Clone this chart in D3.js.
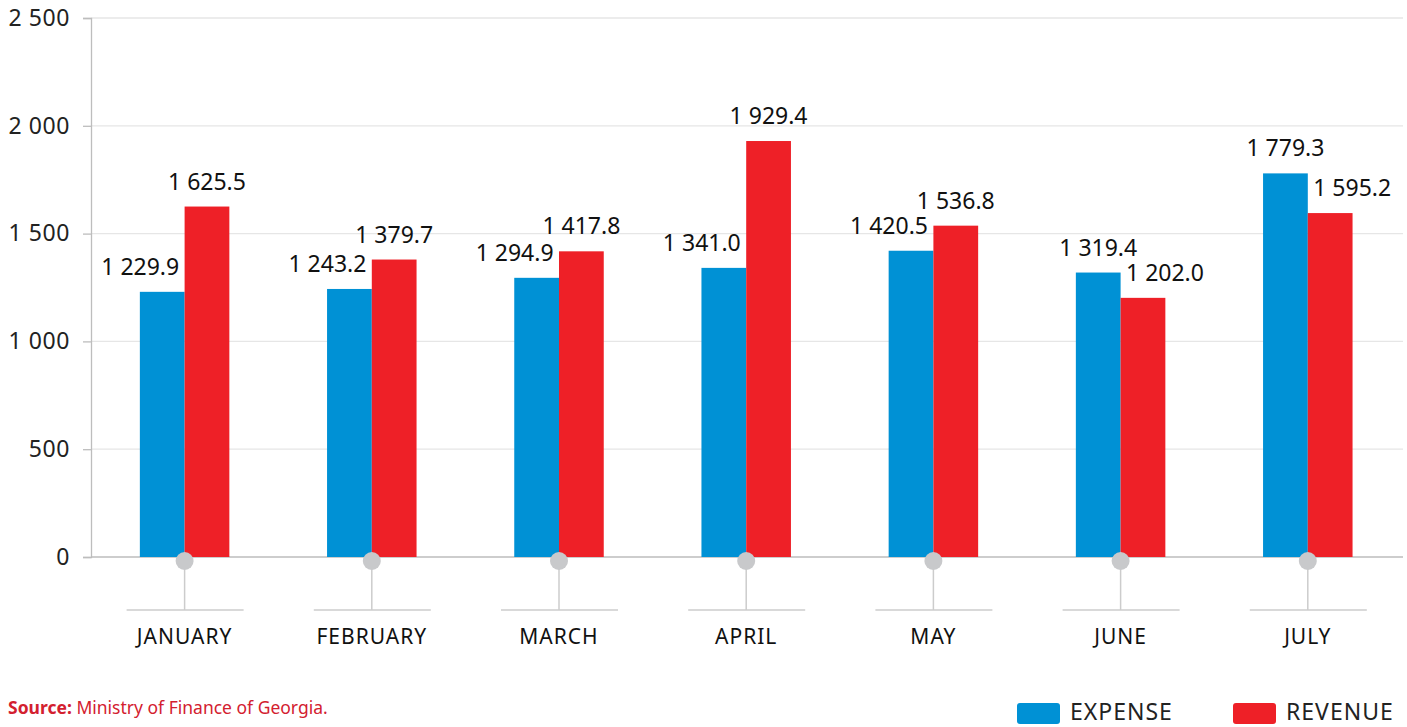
<!DOCTYPE html>
<html>
<head>
<meta charset="utf-8">
<script src="https://cdn.jsdelivr.net/npm/d3@7"></script>
<style>
	body { margin: 0; background: #fff; }
	svg { display: block; font-family: "Noto Sans", "Open Sans", sans-serif; }
</style>
</head>
<body>
<div id="chart"></div>
<script>
// monthly budget data, million GEL
const months = ["JANUARY", "FEBRUARY", "MARCH", "APRIL", "MAY", "JUNE", "JULY"];
const expense = [1229.9, 1243.2, 1294.9, 1341.0, 1420.5, 1319.4, 1779.3];
const revenue = [1625.5, 1379.7, 1417.8, 1929.4, 1536.8, 1202.0, 1595.2];
const seriesNames = ["EXPENSE", "REVENUE"];
const yTicks = [0, 500, 1000, 1500, 2000, 2500];

const width = 1407;
const height = 727;
const colors = { EXPENSE: "#0091d5", REVENUE: "#ee2027" };

// number format with a space as thousands separator
const fmt = (v, digits) => {
	const s = v.toFixed(digits);
	const [int, dec] = s.split(".");
	const withSpace = int.replace(/\B(?=(\d{3})+(?!\d))/g, " ");
	return dec ? withSpace + "." + dec : withSpace;
};

const svg = d3
	.select("#chart")
	.append("svg")
	.attr("width", width)
	.attr("height", height);

const x = d3.scaleBand().domain(months).range([91, 1401.4]);
const xInner = d3
	.scaleBand()
	.domain(seriesNames)
	.range([0, 89.5]);
const y = d3.scaleLinear().domain([0, 2500]).range([557, 18]);

// gridlines
svg.append("g")
	.selectAll("line")
	.data(yTicks.filter((d) => d > 0))
	.enter()
	.append("line")
	.attr("x1", 91)
	.attr("x2", 1403)
	.attr("y1", (d) => y(d))
	.attr("y2", (d) => y(d))
	.attr("stroke", "#e6e6e6")
	.attr("stroke-width", 1.3);

// y axis
const yAxis = svg
	.append("g")
	.attr("transform", "translate(91,0)")
	.call(
		d3.axisLeft(y)
			.tickValues(yTicks)
			.tickSize(8)
			.tickPadding(13)
			.tickFormat((d) => fmt(d, 0))
	);
yAxis.select(".domain").attr("stroke", "#bdbdbd").attr("stroke-width", 1.3);
yAxis.selectAll(".tick line").attr("stroke", "#bdbdbd").attr("stroke-width", 1.3);
yAxis.selectAll("text")
	.attr("font-size", 23)
	.attr("letter-spacing", 0.6)
	.attr("fill", "#222")
	.attr("font-family", "Noto Sans, sans-serif");

// baseline
svg.append("line")
	.attr("x1", 91)
	.attr("x2", 1403)
	.attr("y1", y(0))
	.attr("y2", y(0))
	.attr("stroke", "#bdbdbd")
	.attr("stroke-width", 1.3);

const rows = months.map((m, i) => ({
	month: m,
	values: [
		{ key: "EXPENSE", value: expense[i], other: revenue[i] },
		{ key: "REVENUE", value: revenue[i], other: expense[i] },
	],
}));

const group = svg
	.selectAll("g.month")
	.data(rows)
	.enter()
	.append("g")
	.attr("class", "month")
	.attr("transform", (d) => `translate(${x(d.month) + (x.bandwidth() - 89.5) / 2},0)`);

group
	.selectAll("rect")
	.data((d) => d.values)
	.enter()
	.append("rect")
	.attr("x", (d) => xInner(d.key))
	.attr("y", (d) => y(d.value))
	.attr("width", xInner.bandwidth())
	.attr("height", (d) => y(0) - y(d.value))
	.attr("fill", (d) => colors[d.key]);

// value labels: the lower bar's label is pushed outward
group
	.selectAll("text.value")
	.data((d) => d.values)
	.enter()
	.append("text")
	.attr("class", "value")
	.attr("x", (d) => {
		const c = xInner(d.key) + xInner.bandwidth() / 2;
		if (d.value >= d.other) return c;
		return d.key === "EXPENSE" ? c - 22 : c + 22;
	})
	.attr("y", (d) => y(d.value) - 17)
	.attr("text-anchor", "middle")
	.attr("font-size", 23)
	.attr("fill", "#111")
	.text((d) => fmt(d.value, 1));

// category markers below axis
const cats = svg
	.selectAll("g.cat")
	.data(months)
	.enter()
	.append("g")
	.attr("class", "cat")
	.attr("transform", (d) => `translate(${x(d) + x.bandwidth() / 2},0)`);

cats.append("line")
	.attr("x1", 0)
	.attr("x2", 0)
	.attr("y1", 561)
	.attr("y2", 610)
	.attr("stroke", "#cccccc")
	.attr("stroke-width", 1.5);

cats.append("line")
	.attr("x1", -58)
	.attr("x2", 59)
	.attr("y1", 610)
	.attr("y2", 610)
	.attr("stroke", "#cccccc")
	.attr("stroke-width", 1.5);

cats.append("circle")
	.attr("cx", 0)
	.attr("cy", 561)
	.attr("r", 9)
	.attr("fill", "#c8c9cb");

cats.append("text")
	.attr("y", 644)
	.attr("text-anchor", "middle")
	.attr("font-size", 21)
	.attr("letter-spacing", 1)
	.attr("fill", "#111")
	.text((d) => d);

// source
const source = svg
	.append("text")
	.attr("x", 8)
	.attr("y", 714)
	.attr("font-size", 17.5)
	.attr("fill", "#d3202f");
source.append("tspan").attr("font-weight", "bold").text("Source:");
source.append("tspan").text(" Ministry of Finance of Georgia.");

// legend
const legend = svg
	.selectAll("g.legend")
	.data(seriesNames)
	.enter()
	.append("g")
	.attr("class", "legend")
	.attr("transform", (d, i) => `translate(${1017 + i * 216},703)`);

legend
	.append("rect")
	.attr("width", 43)
	.attr("height", 21)
	.attr("rx", 3)
	.attr("fill", (d) => colors[d]);

legend
	.append("text")
	.attr("x", 53)
	.attr("y", 17)
	.attr("font-size", 23)
	.attr("letter-spacing", 1)
	.attr("fill", "#222")
	.text((d) => d);
</script>
</body>
</html>
